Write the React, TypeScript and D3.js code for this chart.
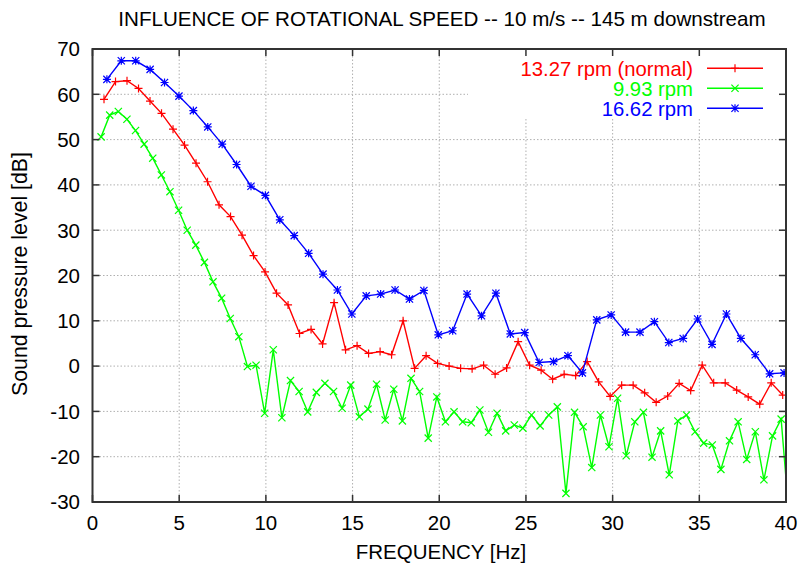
import React from "react";
import * as d3 from "d3";

const title = "INFLUENCE OF ROTATIONAL SPEED -- 10 m/s -- 145 m downstream";
const xLabel = "FREQUENCY [Hz]";
const yLabel = "Sound pressure level [dB]";
const xTicks = [0, 5, 10, 15, 20, 25, 30, 35, 40];
const yTicks = [-30, -20, -10, 0, 10, 20, 30, 40, 50, 60, 70];

// rotational speeds (rpm) – frequency step of each series is rpm / 20 Hz
const rpmRed = 13.27;
const rpmGreen = 9.93;
const rpmBlue = 16.62;

const redLabel = "13.27 rpm (normal)";
const greenLabel = "9.93 rpm";
const blueLabel = "16.62 rpm";

const redValues = [
  58.9, 62.8, 63.0, 61.3, 58.5, 55.8, 52.3, 48.8, 44.8, 40.7, 35.6, 33.0, 28.9,
  24.4, 20.8, 16.1, 13.5, 7.2, 8.1, 4.9, 14.0, 3.6, 4.5, 2.8, 3.2, 2.5, 10.0,
  -0.5, 2.3, 0.6, 0.0, -0.5, -0.6, 0.2, -1.8, -0.4, 5.4, 0.2, -0.9, -2.9, -1.8,
  -2.1, 1.0, -3.5, -6.7, -4.2, -4.2, -5.9, -8.0, -6.6, -3.8, -5.4, 0.2, -3.7,
  -3.7, -5.3, -6.8, -8.4, -3.7, -6.4,
];

const greenValues = [
  50.6, 55.4, 56.2, 54.5, 52.0, 49.0, 45.9, 42.2, 38.5, 34.4, 30.0, 26.7, 22.9,
  18.6, 15.0, 10.5, 6.5, -0.1, 0.2, -10.4, 3.6, -11.4, -3.2, -5.6, -10.1, -5.8,
  -3.8, -5.6, -9.3, -4.2, -11.2, -9.5, -4.0, -11.9, -5.1, -12.1, -2.7, -5.6,
  -15.9, -6.8, -12.3, -10.1, -12.3, -12.5, -9.7, -14.6, -10.4, -14.3, -13.0,
  -13.7, -10.8, -13.2, -10.8, -9.0, -28.1, -10.2, -13.4, -22.4, -10.8, -17.8,
  -7.1, -19.8, -12.3, -10.2, -20.1, -14.3, -24.0, -12.1, -10.8, -14.5, -17.0,
  -17.4, -22.8, -16.5, -12.3, -20.6, -14.5, -25.1, -15.4, -11.7, -35.0,
];

const blueValues = [
  63.3, 67.4, 67.4, 65.5, 62.6, 59.6, 56.4, 52.8, 49.0, 44.5, 39.7, 37.7, 32.3,
  28.8, 24.9, 20.3, 16.8, 11.5, 15.5, 15.9, 16.8, 14.8, 16.7, 6.9, 7.8, 15.9,
  11.1, 16.1, 7.1, 7.4, 0.8, 1.0, 2.3, -1.5, 10.2, 11.3, 7.5, 7.5, 9.8, 5.2, 6.1,
  10.4, 4.8, 11.5, 6.1, 2.5, -1.7, -1.5,
];

const W = 805;
const H = 566;
const L = 92.5;
const R = 786;
const T = 49;
const B = 502;
const FONT = "'Liberation Sans', Arial, Helvetica, sans-serif";

const plusPath = "M-4,0H4M0,-4V4";
const crossPath = "M-3.6,-3.6L3.6,3.6M-3.6,3.6L3.6,-3.6";
const starPath = plusPath + crossPath;

export default function App() {
  const x = d3.scaleLinear().domain([0, 40]).range([L, R]);
  const y = d3.scaleLinear().domain([-30, 70]).range([B, T]);

  const series = [
    { name: greenLabel, values: greenValues, rpm: rpmGreen, color: "#00ff00", marker: crossPath },
    { name: redLabel, values: redValues, rpm: rpmRed, color: "#ff0000", marker: plusPath },
    { name: blueLabel, values: blueValues, rpm: rpmBlue, color: "#0000ff", marker: starPath },
  ].map((s) => ({
    ...s,
    points: s.values.map((v, i) => [((i + 1) * s.rpm) / 20, v] as [number, number]),
  }));

  const line = d3
    .line<[number, number]>()
    .x((d) => x(d[0]))
    .y((d) => y(d[1]));

  const legend = [
    { name: redLabel, color: "#ff0000", marker: plusPath },
    { name: greenLabel, color: "#00ff00", marker: crossPath },
    { name: blueLabel, color: "#0000ff", marker: starPath },
  ];

  const axisColor = "#333";

  return (
    <svg width={W} height={H} style={{ display: "block", position: "absolute", left: 0, top: 0, background: "#fff" }}>
      <defs>
        <clipPath id="plot">
          <rect x={L} y={T} width={R - L} height={B - T} />
        </clipPath>
      </defs>
      <rect x={0} y={0} width={W} height={H} fill="#fff" />
      {/* grid */}
      <g stroke="#b0b0b0" strokeWidth={1} strokeDasharray="1.5 2">
        {xTicks.slice(1, -1).map((t) => (
          <line key={"gx" + t} x1={x(t)} x2={x(t)} y1={B} y2={T} />
        ))}
        {yTicks.slice(1, -1).map((t) => (
          <line key={"gy" + t} x1={L} x2={R} y1={y(t)} y2={y(t)} />
        ))}
      </g>
      {/* legend background */}
      <rect x={468} y={T + 1} width={R - 468 - 1} height={118 - T} fill="#fff" />
      {/* data */}
      <g clipPath="url(#plot)">
        {series.map((s) => (
          <g key={s.name}>
            <path d={line(s.points) || ""} fill="none" stroke={s.color} strokeWidth={1.4} />
            {s.points.map((p, i) => (
              <path
                key={i}
                d={s.marker}
                transform={`translate(${x(p[0])},${y(p[1])})`}
                stroke={s.color}
                strokeWidth={1.2}
                fill="none"
              />
            ))}
          </g>
        ))}
      </g>
      {/* legend */}
      {legend.map((l, i) => {
        const ly = 68.3 + i * 20;
        return (
          <g key={l.name}>
            <text x={693} y={ly} dy="0.36em" textAnchor="end" fontFamily={FONT} fontSize={20.3} fill={l.color}>
              {l.name}
            </text>
            <line x1={707} x2={763} y1={ly} y2={ly} stroke={l.color} strokeWidth={1.4} />
            <path d={l.marker} transform={`translate(735,${ly})`} stroke={l.color} strokeWidth={1.2} fill="none" />
          </g>
        );
      })}
      {/* ticks */}
      <g stroke={axisColor} strokeWidth={1.5}>
        {xTicks.map((t) => (
          <g key={"tx" + t}>
            <line x1={x(t)} x2={x(t)} y1={B} y2={B - 7} />
            <line x1={x(t)} x2={x(t)} y1={T} y2={T + 7} />
          </g>
        ))}
        {yTicks.map((t) => (
          <g key={"ty" + t}>
            <line x1={L} x2={L + 7} y1={y(t)} y2={y(t)} />
            <line x1={R} x2={R - 7} y1={y(t)} y2={y(t)} />
          </g>
        ))}
      </g>
      {/* border */}
      <rect x={L} y={T} width={R - L} height={B - T} fill="none" stroke={axisColor} strokeWidth={2} />
      {/* tick labels */}
      <g fontFamily={FONT} fontSize={20.5} fill="#000">
        {xTicks.map((t) => (
          <text key={"lx" + t} x={x(t)} y={530} textAnchor="middle">
            {t}
          </text>
        ))}
        {yTicks.map((t) => (
          <text key={"ly" + t} x={80} y={y(t)} dy="0.36em" textAnchor="end">
            {t}
          </text>
        ))}
      </g>
      <text x={442} y={26} textAnchor="middle" fontFamily={FONT} fontSize={20.6} fill="#000">
        {title}
      </text>
      <text x={441} y={559} textAnchor="middle" fontFamily={FONT} fontSize={20.5} fill="#000">
        {xLabel}
      </text>
      <text
        transform={`translate(27,274) rotate(-90)`}
        textAnchor="middle"
        fontFamily={FONT}
        fontSize={21.3}
        fill="#000"
      >
        {yLabel}
      </text>
    </svg>
  );
}
